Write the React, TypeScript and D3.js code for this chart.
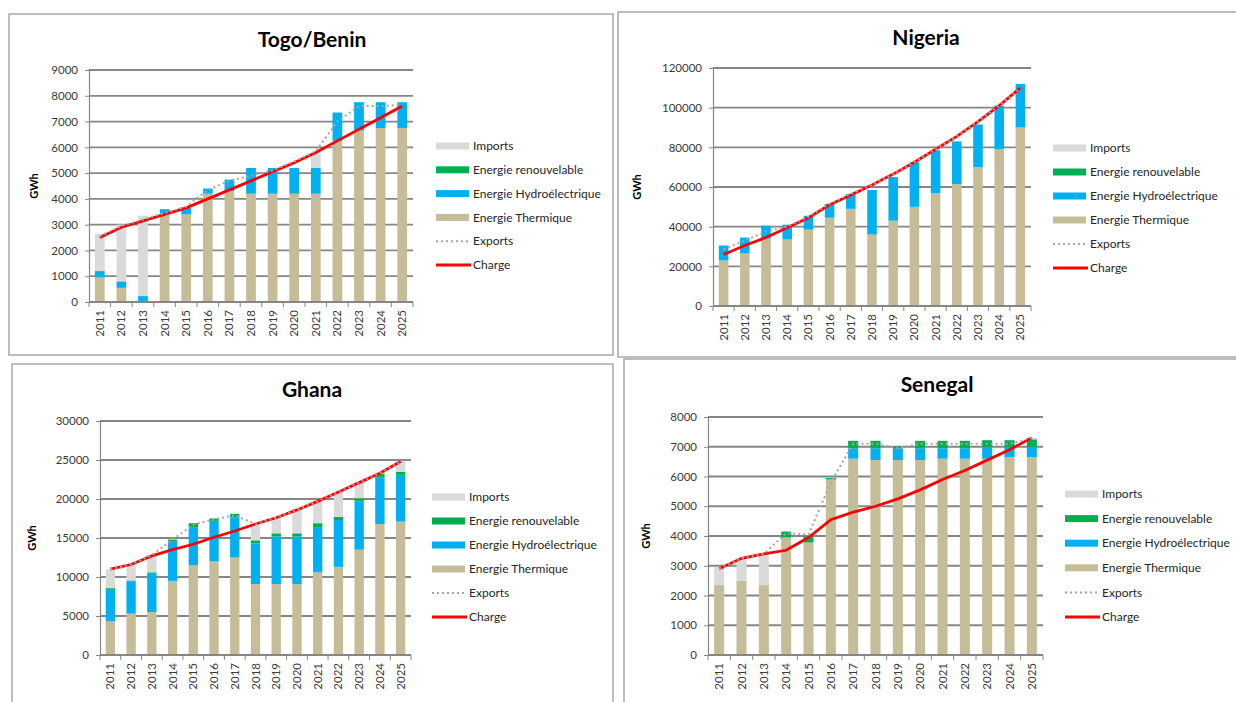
import React, { useRef, useEffect } from "react";
import * as d3 from "d3";

const years = ["2011", "2012", "2013", "2014", "2015", "2016", "2017", "2018", "2019", "2020", "2021", "2022", "2023", "2024", "2025"];

const seriesLabels = ["Imports", "Energie renouvelable", "Energie Hydroélectrique", "Energie Thermique", "Exports", "Charge"];

// Togo/Benin
const togoThermique = [950, 550, 0, 3450, 3400, 4200, 4300, 4200, 4200, 4200, 4200, 6250, 6650, 6750, 6750];
const togoHydro = [250, 250, 230, 150, 250, 200, 450, 1000, 1000, 1000, 1000, 1100, 1100, 1000, 1000];
const togoRenouv = [0, 0, 0, 0, 0, 0, 0, 0, 0, 0, 0, 0, 0, 0, 0];
const togoImports = [1450, 2200, 3120, 0, 0, 0, 0, 0, 0, 0, 600, 0, 0, 0, 0];
const togoCharge = [2500, 2900, 3150, 3400, 3650, 4000, 4350, 4700, 5050, 5400, 5800, 6250, 6700, 7150, 7600];
const togoExports = [2550, 2950, 3200, 3450, 3700, 4350, 4700, 4900, 5100, 5450, 5850, 7000, 7600, 7600, 7650];

// Nigeria
const nigThermique = [23000, 26500, 34000, 33500, 38500, 44500, 49000, 36000, 43000, 50000, 57000, 61500, 70000, 79000, 90000];
const nigHydro = [7500, 8000, 6500, 7500, 7000, 7000, 7500, 22500, 22000, 22500, 21500, 21500, 21500, 22000, 22000];
const nigRenouv = [0, 0, 0, 0, 0, 0, 0, 0, 0, 0, 0, 0, 0, 0, 0];
const nigImports = [0, 0, 0, 0, 0, 0, 0, 0, 0, 0, 0, 0, 0, 0, 0];
const nigCharge = [26000, 30500, 34500, 39500, 44500, 51000, 56000, 61000, 66500, 72500, 79000, 85500, 93000, 101000, 110000];
const nigExports = [28500, 33000, 37500, 40000, 45000, 51500, 56500, 61000, 66500, 72500, 79000, 85500, 93000, 101000, 110000];

// Ghana
const ghaThermique = [4300, 5300, 5500, 9500, 11500, 12000, 12500, 9100, 9100, 9100, 10600, 11300, 13500, 16800, 17100];
const ghaHydro = [4200, 4100, 5000, 5100, 4900, 5200, 5100, 5200, 6100, 6100, 5800, 6000, 6200, 6000, 6000];
const ghaRenouv = [100, 150, 100, 200, 500, 300, 500, 400, 400, 400, 500, 400, 400, 400, 400];
const ghaImports = [2400, 2150, 2200, 0, 0, 0, 0, 2000, 2000, 3100, 2900, 3200, 2000, 200, 1400];
const ghaCharge = [11000, 11600, 12700, 13500, 14200, 15100, 15900, 16800, 17600, 18600, 19700, 20900, 22100, 23300, 24800];
const ghaExports = [11000, 11600, 12800, 14800, 16700, 17400, 17900, 16800, 17600, 18600, 19700, 20900, 22100, 23300, 24800];

// Senegal
const senThermique = [2350, 2500, 2350, 3950, 3780, 5900, 6600, 6550, 6550, 6550, 6600, 6600, 6600, 6650, 6650];
const senHydro = [0, 0, 0, 0, 0, 0, 350, 400, 400, 400, 350, 350, 400, 350, 350];
const senRenouv = [0, 0, 0, 200, 200, 50, 250, 250, 50, 250, 250, 250, 220, 220, 250];
const senImports = [600, 750, 1050, 0, 0, 0, 0, 0, 0, 0, 0, 0, 0, 0, 50];
const senCharge = [2900, 3250, 3400, 3520, 3950, 4550, 4800, 5000, 5250, 5550, 5900, 6200, 6550, 6900, 7300];
const senExports = [2900, 3250, 3400, 4100, 4050, 5800, 7100, 7100, 6950, 7100, 7100, 7100, 7100, 7100, 7300];

const colors = {
    imports: "#dadada",
    renouv: "#00b050",
    hydro: "#00b0f0",
    thermique: "#c4bd97",
    exports: "#a6a6a6",
    charge: "#ff0000",
};

type Panel = {
    title: string;
    max: number;
    step: number;
    thermique: number[];
    hydro: number[];
    renouv: number[];
    imports: number[];
    charge: number[];
    exports: number[];
    frame: [number, number, number, number];
    plot: { left: number; right: number; top: number; bottom: number };
    titleX: number;
    titleY: number;
    gwhX: number;
    legendX: number;
    legendY: number;
    legendGap: number;
};

const panels: Panel[] = [
    {
        title: "Togo/Benin", max: 9000, step: 1000,
        thermique: togoThermique, hydro: togoHydro, renouv: togoRenouv, imports: togoImports, charge: togoCharge, exports: togoExports,
        frame: [9, 14, 613, 355],
        plot: { left: 89, right: 413, top: 70, bottom: 302 },
        titleX: 312, titleY: 47, gwhX: 38, legendX: 436, legendY: 146, legendGap: 23.8,
    },
    {
        title: "Nigeria", max: 120000, step: 20000,
        thermique: nigThermique, hydro: nigHydro, renouv: nigRenouv, imports: nigImports, charge: nigCharge, exports: nigExports,
        frame: [618, 12, 1250, 357],
        plot: { left: 713, right: 1031, top: 68, bottom: 306 },
        titleX: 926, titleY: 45, gwhX: 641, legendX: 1053, legendY: 148, legendGap: 24,
    },
    {
        title: "Ghana", max: 30000, step: 5000,
        thermique: ghaThermique, hydro: ghaHydro, renouv: ghaRenouv, imports: ghaImports, charge: ghaCharge, exports: ghaExports,
        frame: [12, 364, 613, 720],
        plot: { left: 100, right: 411, top: 421, bottom: 655 },
        titleX: 312, titleY: 397, gwhX: 36, legendX: 432, legendY: 497, legendGap: 24,
    },
    {
        title: "Senegal", max: 8000, step: 1000,
        thermique: senThermique, hydro: senHydro, renouv: senRenouv, imports: senImports, charge: senCharge, exports: senExports,
        frame: [624, 359, 1250, 720],
        plot: { left: 708, right: 1043, top: 417, bottom: 655 },
        titleX: 937, titleY: 392, gwhX: 650, legendX: 1065, legendY: 494, legendGap: 24.6,
    },
];

const font = "Lato, 'Open Sans', sans-serif";

const App = () => {
    const svgRef = useRef<SVGSVGElement>(null);

    useEffect(() => {
        if (!svgRef.current) return;
        const svg = d3.select(svgRef.current);
        svg.selectAll("*").remove();

        svg.append("rect").attr("width", 1236).attr("height", 702).attr("fill", "#ffffff");

        panels.forEach((p) => {
            const g = svg.append("g");

            // cadre
            g.append("rect")
                .attr("x", p.frame[0])
                .attr("y", p.frame[1])
                .attr("width", p.frame[2] - p.frame[0])
                .attr("height", p.frame[3] - p.frame[1])
                .attr("fill", "none")
                .attr("stroke", "#a9a9a9")
                .attr("stroke-width", 1.5);

            g.append("text")
                .attr("x", p.titleX)
                .attr("y", p.titleY)
                .attr("text-anchor", "middle")
                .style("font-family", font)
                .style("font-size", "21px")
                .style("font-weight", "bold")
                .style("fill", "#000")
                .text(p.title);

            const x = d3.scaleBand().domain(years).range([p.plot.left, p.plot.right]).paddingInner(0.55).paddingOuter(0.275);
            const y = d3.scaleLinear().domain([0, p.max]).range([p.plot.bottom, p.plot.top]);
            const ticks = d3.range(0, p.max + 1, p.step);

            // grille
            g.selectAll(".grid")
                .data(ticks.filter((t) => t > 0))
                .enter()
                .append("line")
                .attr("x1", p.plot.left)
                .attr("x2", p.plot.right)
                .attr("y1", (d) => y(d))
                .attr("y2", (d) => y(d))
                .attr("stroke", "#868686")
                .attr("stroke-width", 1.8);

            // axe Y
            const yAxis = g.append("g")
                .attr("transform", `translate(${p.plot.left},0)`)
                .call(d3.axisLeft(y).tickValues(ticks).tickSize(4).tickPadding(7).tickFormat(d3.format("d")));
            yAxis.select(".domain").attr("stroke", "#868686").attr("stroke-width", 1.2);
            yAxis.selectAll(".tick line").attr("stroke", "#868686");
            yAxis.selectAll("text")
                .style("font-family", font)
                .style("font-size", "11.5px")
                .style("fill", "#3a3a3a");

            g.append("text")
                .attr("transform", `translate(${p.gwhX},${(p.plot.top + p.plot.bottom) / 2}) rotate(-90)`)
                .attr("text-anchor", "middle")
                .style("font-family", font)
                .style("font-size", "11px")
                .style("font-weight", "bold")
                .style("fill", "#000")
                .text("GWh");

            // barres empilées
            const rows = years.map((yr, i) => ({
                year: yr,
                thermique: p.thermique[i],
                hydro: p.hydro[i],
                renouv: p.renouv[i],
                imports: p.imports[i],
            }));
            const keys = ["thermique", "hydro", "renouv", "imports"] as const;
            const stack = d3.stack<any>().keys(keys as any)(rows);

            stack.forEach((layer) => {
                g.append("g")
                    .selectAll("rect")
                    .data(layer)
                    .enter()
                    .append("rect")
                    .attr("x", (d: any) => x(d.data.year)!)
                    .attr("width", x.bandwidth())
                    .attr("y", (d: any) => y(d[1]))
                    .attr("height", (d: any) => Math.max(0, y(d[0]) - y(d[1])))
                    .attr("fill", (colors as any)[layer.key]);
            });

            // axe X
            g.append("line")
                .attr("x1", p.plot.left)
                .attr("x2", p.plot.right)
                .attr("y1", p.plot.bottom)
                .attr("y2", p.plot.bottom)
                .attr("stroke", "#868686")
                .attr("stroke-width", 1.8);

            const half = (x.step() - x.bandwidth()) / 2;
            const bounds = years.map((yr) => x(yr)! - half).concat([x(years[years.length - 1])! + x.bandwidth() + half]);
            g.selectAll(".xtick")
                .data(bounds)
                .enter()
                .append("line")
                .attr("x1", (d) => d)
                .attr("x2", (d) => d)
                .attr("y1", p.plot.bottom)
                .attr("y2", p.plot.bottom + 5)
                .attr("stroke", "#868686");

            const xAxis = g.append("g")
                .attr("transform", `translate(0,${p.plot.bottom})`)
                .call(d3.axisBottom(x).tickSize(0).tickPadding(0));
            xAxis.select(".domain").remove();
            xAxis.selectAll("text")
                .attr("transform", "rotate(-90)")
                .attr("x", -8)
                .attr("y", 0)
                .attr("dy", "0.35em")
                .attr("text-anchor", "end")
                .style("font-family", font)
                .style("font-size", "11.5px")
                .style("fill", "#3a3a3a");

            // courbes
            const cx = (i: number) => x(years[i])! + x.bandwidth() / 2;
            const line = d3.line<number>().x((_, i) => cx(i)).y((d) => y(d));

            g.append("path")
                .attr("d", line(p.charge))
                .attr("fill", "none")
                .attr("stroke", colors.charge)
                .attr("stroke-width", 2.8);

            g.append("path")
                .attr("d", line(p.exports))
                .attr("fill", "none")
                .attr("stroke", colors.exports)
                .attr("stroke-width", 2)
                .attr("stroke-dasharray", "2 3");

            // légende
            const legend = g.append("g").attr("transform", `translate(${p.legendX},${p.legendY})`);
            seriesLabels.forEach((label, i) => {
                const ly = i * p.legendGap;
                const key = ["imports", "renouv", "hydro", "thermique", "exports", "charge"][i];
                if (key === "exports") {
                    legend.append("line")
                        .attr("x1", 0).attr("x2", 33).attr("y1", ly).attr("y2", ly)
                        .attr("stroke", colors.exports).attr("stroke-width", 2).attr("stroke-dasharray", "2 3");
                } else if (key === "charge") {
                    legend.append("line")
                        .attr("x1", 0).attr("x2", 35).attr("y1", ly).attr("y2", ly)
                        .attr("stroke", colors.charge).attr("stroke-width", 2.8);
                } else {
                    legend.append("rect")
                        .attr("x", 0).attr("y", ly - 3.5).attr("width", 33).attr("height", 7)
                        .attr("fill", (colors as any)[key]);
                }
                legend.append("text")
                    .attr("x", 37)
                    .attr("y", ly)
                    .attr("dy", "0.35em")
                    .style("font-family", font)
                    .style("font-size", "12px")
                    .style("fill", "#262626")
                    .text(label);
            });
        });
    }, []);

    return (
        <svg
            ref={svgRef}
            width={1236}
            height={702}
            style={{ position: "absolute", left: 0, top: 0, display: "block" }}
        />
    );
};

export default App;
